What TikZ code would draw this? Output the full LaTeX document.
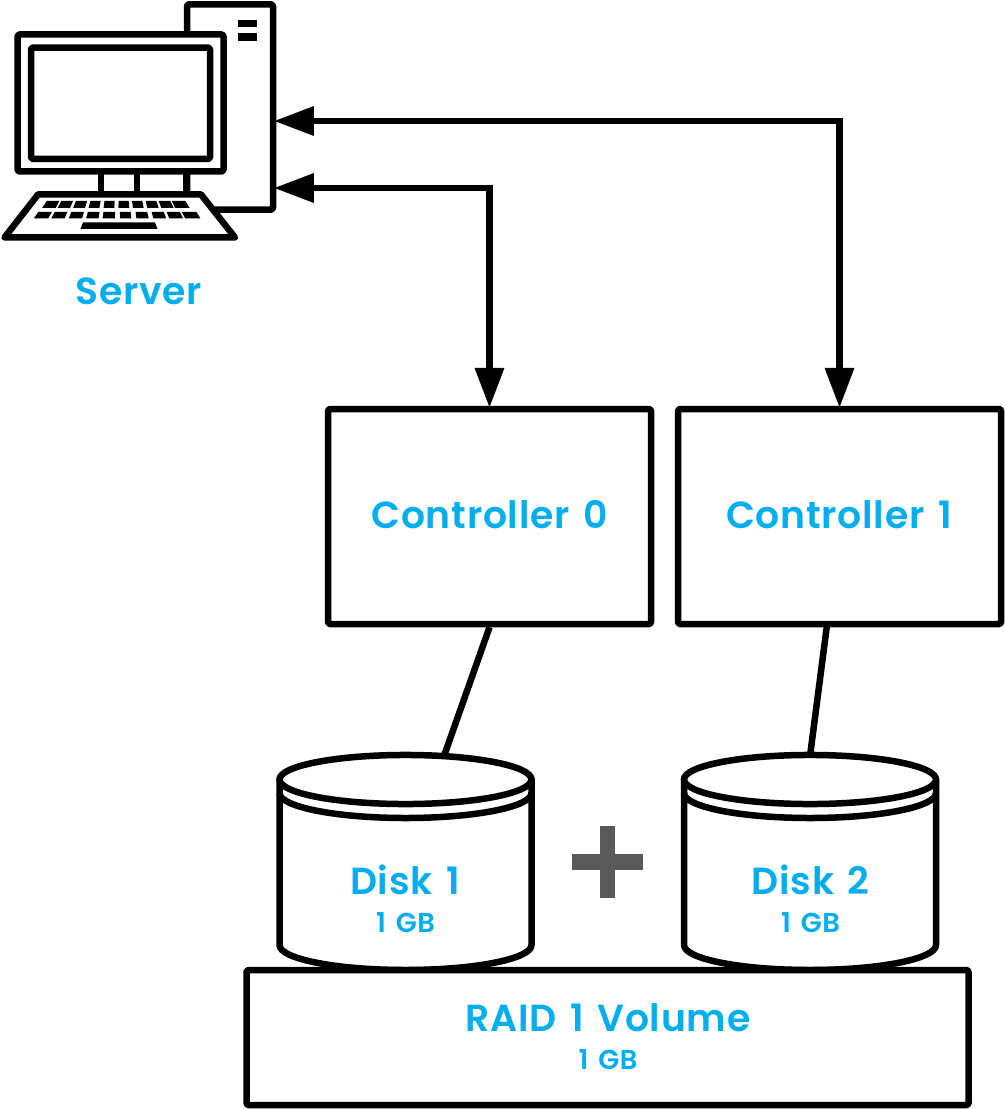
\documentclass[tikz,border=0pt]{standalone}
\usepackage{fontspec}
\setmainfont{Poppins}[UprightFont=* Medium,BoldFont=* SemiBold,LetterSpace=2,WordSpace=1.4]
\usetikzlibrary{arrows.meta}
\definecolor{txt}{HTML}{00AEEF}
\definecolor{plusc}{HTML}{595959}
\tikzset{
  x=0.75pt,y=-0.75pt,
  ln/.style={draw=black,line width=4.875pt,line join=round},
  boxn/.style={ln,fill=white,rectangle,rounded corners=1.2pt,inner sep=0pt},
  lab/.style={text=txt,inner sep=0pt,font=\bfseries\fontsize{28.3pt}{32pt}\selectfont},
  sub/.style={text=txt,inner sep=0pt,font=\bfseries\fontsize{20.5pt}{24pt}\selectfont},
  arr/.style={ln,line join=miter,shorten <=-1.6pt,shorten >=-1.6pt,{Triangle[length=30pt,width=21pt]}-{Triangle[length=30pt,width=21pt]}},
  wire/.style={ln},
}
\newcommand{\diskshape}[1]{%
  \begin{scope}[shift={(#1,0)}]
    \filldraw[ln,fill=white] (279.5,779) -- (279.5,945) arc[start angle=180,end angle=360,x radius=94.5pt,y radius=18.75pt] -- (531.5,779) -- cycle;
    \draw[ln] (279.5,793) arc[start angle=180,end angle=360,x radius=94.5pt,y radius=18.75pt];
    \filldraw[ln,fill=white] (405.5,779.5) ellipse[x radius=94.5pt,y radius=18.4pt];
  \end{scope}}
\begin{document}
\begin{tikzpicture}
\useasboundingbox (0,0) rectangle (1005,1109);
% server
\node[boxn,minimum width=64.5pt,minimum height=154.1pt] (tower) at (230,107) {};
\fill (238,20) rectangle (257,27);
\fill (238,33) rectangle (257,41);
\draw[ln] (101,170) -- (101,195);
\draw[ln] (137,170) -- (137,195);
\draw[ln] (186,170) -- (186,195);
\node[boxn,minimum width=154.5pt,minimum height=102.75pt] (monitor) at (120.5,103) {};
\node[boxn,minimum width=134.25pt,minimum height=83.6pt] (screen) at (120.5,103.25) {};
\filldraw[ln,fill=white] (38,194.5) -- (201,194.5) -- (235,237.5) -- (4.5,237.5) -- cycle;
\foreach \a/\b in {44.5/57.5,59.5/71.5,74.5/86,89.5/100,104/114.5,118.5/129,132.5/143,146.5/157.5,160/172,173.5/187.5}
  \fill ({119.5+(\a-119.5)*0.969},201) -- ({119.5+(\b-119.5)*0.969},201) -- ({119.5+(\b-119.5)*1.031},208) -- ({119.5+(\a-119.5)*1.031},208) -- cycle;
\foreach \a/\b in {36/50,53/66,70/83,87/99,103/115,120/131,136/148,152.5/165,168/181.5,183.5/198.5}
  \fill ({119.5+(\a-119.5)*0.974},212) -- ({119.5+(\b-119.5)*0.974},212) -- ({119.5+(\b-119.5)*1.026},218.5) -- ({119.5+(\a-119.5)*1.026},218.5) -- cycle;
\fill (83,222.5) -- (155,222.5) -- (157.5,229) -- (80.5,229) -- cycle;
\node[lab] (serverlab) at (139,291) {Server};
% controllers
\node[boxn,minimum width=242.25pt,minimum height=161.25pt] (c0) at (489.5,516.5) {};
\node[boxn,minimum width=242.25pt,minimum height=161.25pt] (c1) at (839.5,516.5) {};
\node[lab] (c0lab) at (489.5,515) {Controller 0};
\node[lab] (c1lab) at (839,515) {Controller 1};
% arrows
\coordinate (t0) at (276,188);
\coordinate (t1) at (276,121);
\draw[arr] (t0) -| (c0.north);
\draw[arr] (t1) -| (c1.north);
% wires
\coordinate (d1top) at (444,756);
\coordinate (d2top) at (810,756);
\coordinate (c1foot) at (827,625);
\draw[wire] (c0.south) -- (d1top);
\draw[wire] (c1foot) -- (d2top);
% disks
\diskshape{0}
\diskshape{404.5}
\node[lab] (d1lab) at (405,880) {Disk 1};
\node[sub] (d1sub) at (405.5,923) {1 GB};
\node[lab] (d2lab) at (810.5,880) {Disk 2};
\node[sub] (d2sub) at (810.5,923) {1 GB};
% plus
\fill[plusc] (600,826) rectangle (615,898);
\fill[plusc] (572,854) rectangle (643,870);
% volume
\node[boxn,minimum width=541.5pt,minimum height=101.25pt] (raid) at (607.5,1037.5) {};
\node[lab] (raidlab) at (608,1018) {RAID 1 Volume};
\node[sub] (raidsub) at (608,1060) {1 GB};
\end{tikzpicture}
\end{document}
